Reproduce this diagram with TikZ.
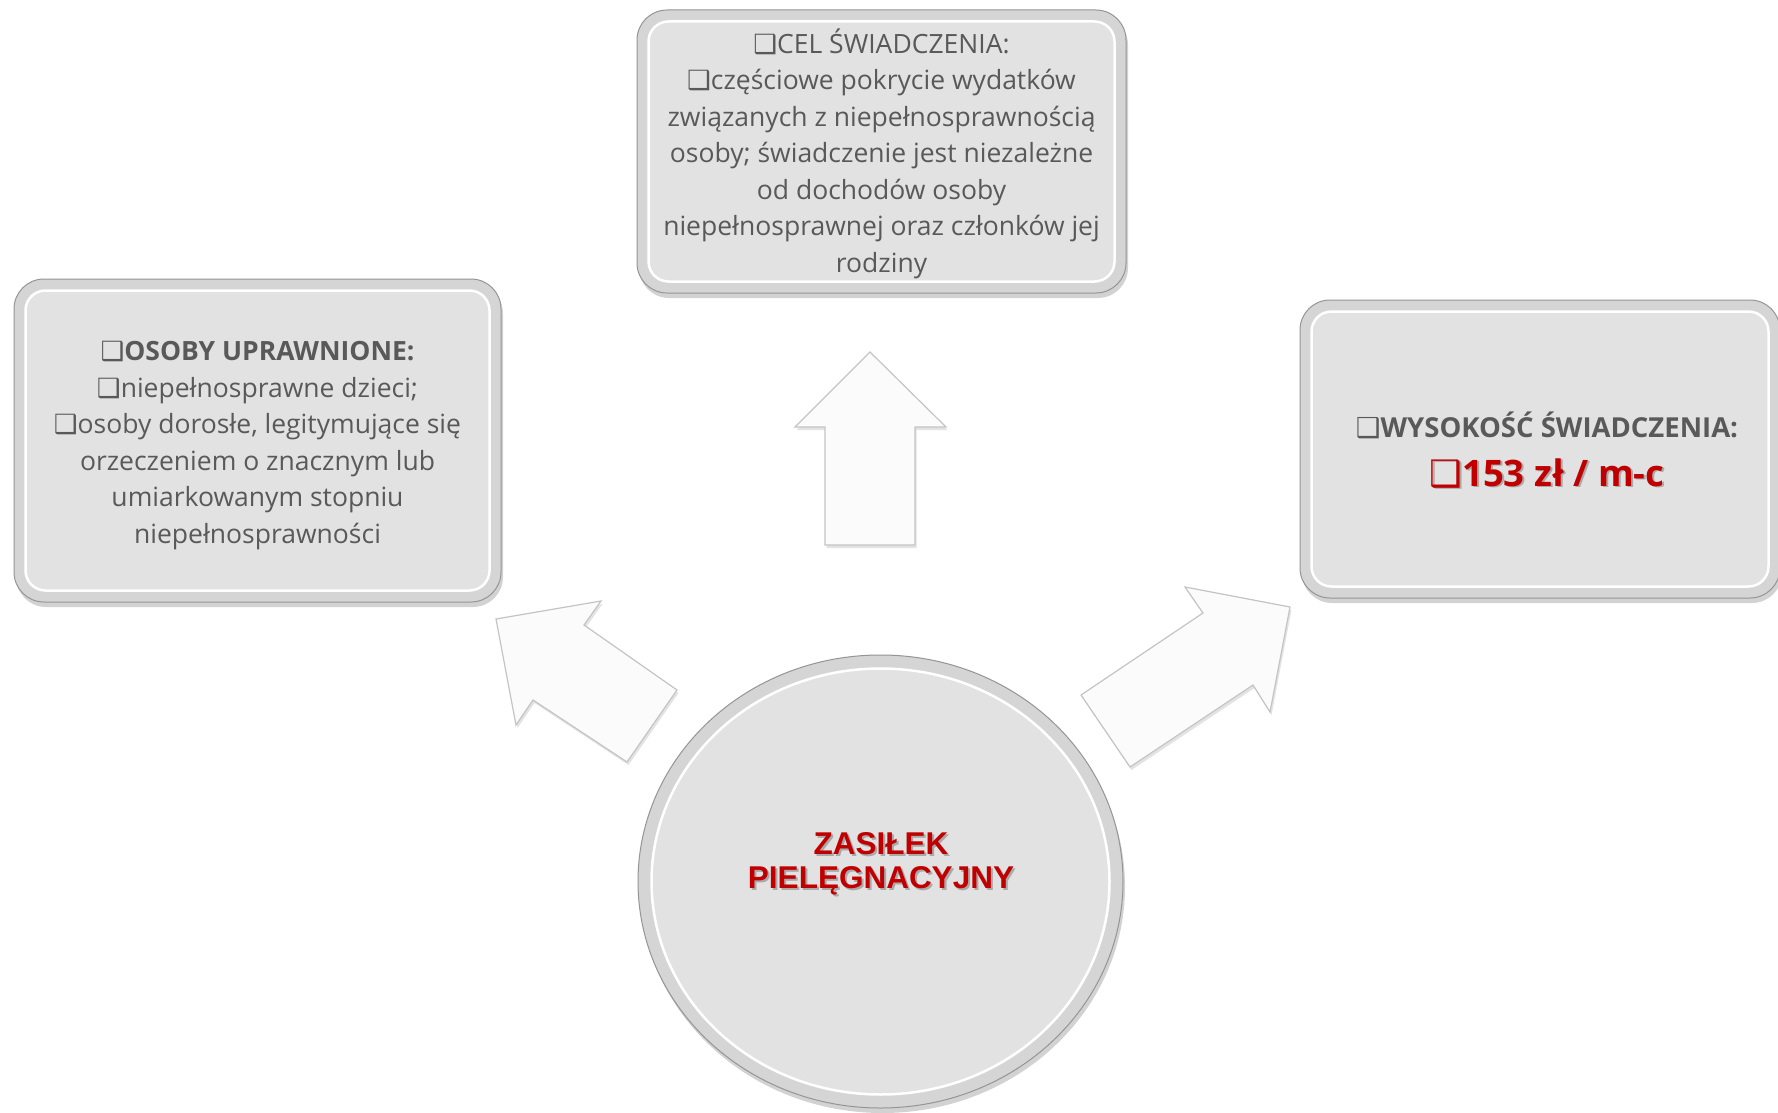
\documentclass[tikz,border=0pt]{standalone}
\usepackage{fontspec}
\setmainfont{Open Sans}
\newfontfamily\arialf{Liberation Sans}
\newfontfamily\symf{DejaVu Sans}
\usetikzlibrary{shadows,calc,shapes.geometric}
\definecolor{txtgray}{HTML}{595959}
\definecolor{redt}{HTML}{C00000}
\definecolor{boxfill}{HTML}{E2E2E2}
\definecolor{boxband}{HTML}{D5D5D5}
\definecolor{boxedge}{HTML}{959595}
\definecolor{arrfill}{HTML}{FBFBFB}
\definecolor{arredge}{HTML}{C4C4C4}
\newcommand\cbx{{\symf ❑}}
\tikzset{
  panel/.style={draw=boxedge, line width=1pt, fill=boxband, rounded corners=30pt, inner sep=0pt,
    drop shadow={opacity=0.35, shadow xshift=2pt, shadow yshift=-5pt}},
  panelin/.style={draw=white, line width=2.5pt, fill=boxfill, rounded corners=20pt},
  ptext/.style={text=txtgray, align=center, font=\fontsize{26.5}{36.5}\selectfont},
  shtext/.style={text=black, opacity=0.25, align=center},
  arrowshape/.style={fill=arrfill, draw=arredge, line width=1.2pt, line join=miter,
    drop shadow={opacity=0.22, shadow xshift=1.5pt, shadow yshift=-3pt}},
  roundel/.style={ellipse, draw=boxedge, line width=1pt, fill=boxband, inner sep=0pt,
    drop shadow={opacity=0.35, shadow xshift=2pt, shadow yshift=-5pt}}
}
\begin{document}
\begin{tikzpicture}[x=1pt, y=-1pt]
\useasboundingbox (0,0) rectangle (1778,1113);
\clip (0,0) rectangle (1778,1113);
\fill[white] (0,0) rectangle (1778,1113);

% top box
\node[panel, minimum width=489pt, minimum height=283pt] (cel) at (881.5,151.5) {};
\draw[panelin] ($(cel.north west)+(12,12)$) rectangle ($(cel.south east)+(-12,-12)$);
\node[ptext] (celt) at (881.5,153.5) {\cbx CEL ŚWIADCZENIA:\\
\cbx częściowe pokrycie wydatków\\
związanych z niepełnosprawnością\\
osoby; świadczenie jest niezależne\\
od dochodów osoby\\
niepełnosprawnej oraz członków jej\\
rodziny};

% left box
\node[panel, minimum width=487pt, minimum height=323pt] (osoby) at (257.5,440.5) {};
\draw[panelin] ($(osoby.north west)+(12,12)$) rectangle ($(osoby.south east)+(-12,-12)$);
\node[ptext] (osobyt) at (257.5,445.5) {\textbf{\cbx OSOBY UPRAWNIONE:}\\
\cbx niepełnosprawne dzieci;\\
\cbx osoby dorosłe, legitymujące się\\
orzeczeniem o znacznym lub\\
umiarkowanym stopniu\\
niepełnosprawności};

% right box
\node[panel, minimum width=480pt, minimum height=298pt] (wys) at (1540,449) {};
\draw[panelin] ($(wys.north west)+(12,12)$) rectangle ($(wys.south east)+(-12,-12)$);
\node[ptext, shtext, font=\fontsize{27.5}{36.5}\selectfont] at (1549,451.5) {\phantom{\textbf{\cbx WYSOKOŚĆ ŚWIADCZENIA:}}\\[12pt]
{\fontsize{36.5}{40}\selectfont\bfseries \cbx 153 zł / m-c}};
\node[ptext, font=\fontsize{27.5}{36.5}\selectfont] (wyst) at (1547,450) {\textbf{\cbx WYSOKOŚĆ ŚWIADCZENIA:}\\[12pt]
{\color{redt}\fontsize{36.5}{40}\selectfont\bfseries \cbx 153 zł / m-c}};

% arrows
\draw[arrowshape] (870,352) -- (946,427) -- (915,427) -- (915,545) -- (825,545) -- (825,427) -- (795,427) -- cycle;
\draw[arrowshape] (496,619) -- (601,601) -- (584,625) -- (677,690) -- (627,762) -- (533,700) -- (516,725) -- cycle;
\draw[arrowshape] (1290,607) -- (1270,712) -- (1253,685) -- (1130,767) -- (1081,695) -- (1203,613) -- (1185,587) -- cycle;

% central ellipse
\node[roundel, minimum width=485pt, minimum height=453pt] (zp) at (880.5,881.5) {};
\draw[draw=white, line width=2.5pt, fill=boxfill] (zp.center) ellipse [x radius=229, y radius=213];
\node[shtext, font=\arialf\bfseries\fontsize{31.5}{34}\selectfont] at (883,865.5) {ZASIŁEK\\PIELĘGNACYJNY};
\node[align=center, text=redt, font=\arialf\bfseries\fontsize{31.5}{34}\selectfont] (zpt) at (881,863.5) {ZASIŁEK\\PIELĘGNACYJNY};
\end{tikzpicture}
\end{document}
